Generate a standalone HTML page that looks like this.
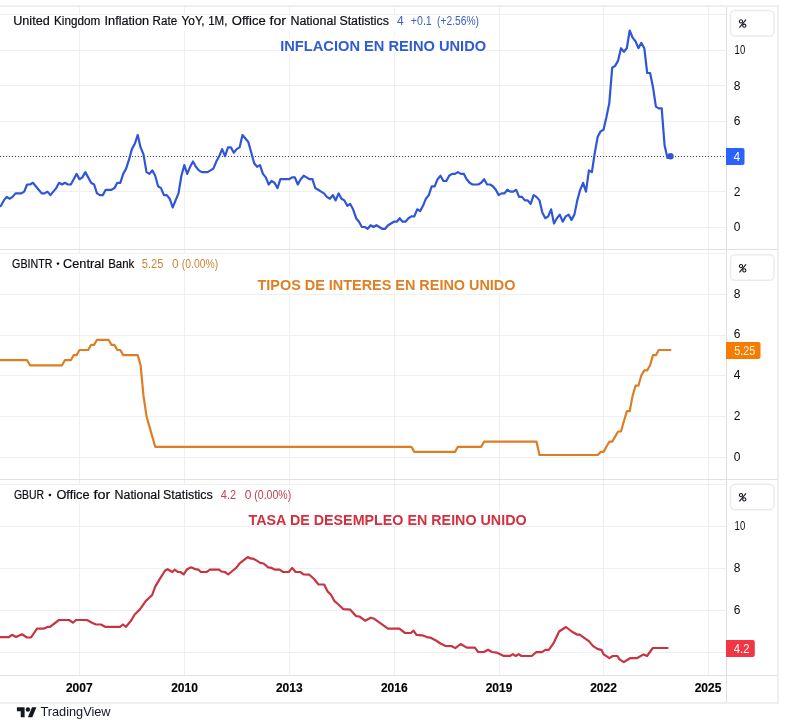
<!DOCTYPE html>
<html><head><meta charset="utf-8"><style>
html,body{margin:0;padding:0;background:#fff;}
svg{display:block;will-change:transform;}
</style></head><body>
<svg width="788" height="725" viewBox="0 0 788 725" font-family="Liberation Sans, sans-serif">
<rect width="788" height="725" fill="#fff"/>
<g stroke="#efefef" stroke-width="1" shape-rendering="crispEdges">
<line x1="79.5" y1="6" x2="79.5" y2="675" /><line x1="184.5" y1="6" x2="184.5" y2="675" /><line x1="289.5" y1="6" x2="289.5" y2="675" /><line x1="394.5" y1="6" x2="394.5" y2="675" /><line x1="499.5" y1="6" x2="499.5" y2="675" /><line x1="603.5" y1="6" x2="603.5" y2="675" /><line x1="708.5" y1="6" x2="708.5" y2="675" /><line x1="0" y1="14.5" x2="726" y2="14.5" /><line x1="0" y1="50.5" x2="726" y2="50.5" /><line x1="0" y1="85.5" x2="726" y2="85.5" /><line x1="0" y1="121.5" x2="726" y2="121.5" /><line x1="0" y1="156.5" x2="726" y2="156.5" /><line x1="0" y1="191.5" x2="726" y2="191.5" /><line x1="0" y1="227.5" x2="726" y2="227.5" /><line x1="0" y1="253.5" x2="726" y2="253.5" /><line x1="0" y1="294.5" x2="726" y2="294.5" /><line x1="0" y1="335.5" x2="726" y2="335.5" /><line x1="0" y1="375.5" x2="726" y2="375.5" /><line x1="0" y1="416.5" x2="726" y2="416.5" /><line x1="0" y1="457.5" x2="726" y2="457.5" /><line x1="0" y1="484.5" x2="726" y2="484.5" /><line x1="0" y1="526.5" x2="726" y2="526.5" /><line x1="0" y1="568.5" x2="726" y2="568.5" /><line x1="0" y1="610.5" x2="726" y2="610.5" /><line x1="0" y1="652.5" x2="726" y2="652.5" />
</g>
<g fill="#efeff1">
<rect x="0" y="5" width="779" height="2"/>
<rect x="777" y="5" width="2" height="699"/>
<rect x="0" y="702" width="779" height="2"/>
</g>
<g fill="#e0e0e0">
<rect x="726" y="7" width="1" height="695"/>
<rect x="0" y="249" width="777" height="1"/>
<rect x="0" y="479" width="777" height="1"/>
<rect x="0" y="675" width="777" height="1"/>
</g>
<!-- % boxes -->
<g fill="none" stroke="#ebebeb" stroke-width="1.5">
<rect x="730.5" y="10.5" width="43.5" height="25.5" rx="4.5"/>
<rect x="730.5" y="254.8" width="43.5" height="25.5" rx="4.5"/>
<rect x="730.5" y="484.3" width="43.5" height="25.5" rx="4.5"/>
</g>
<g fill="none" stroke="#131722" stroke-width="1.1">
<g transform="translate(739,19.3)"><circle cx="2" cy="2.1" r="1.6"/><circle cx="5.3" cy="6.4" r="1.6"/><path d="M0.4,8.3 L7,0.3"/></g>
<g transform="translate(739,264)"><circle cx="2" cy="2.1" r="1.6"/><circle cx="5.3" cy="6.4" r="1.6"/><path d="M0.4,8.3 L7,0.3"/></g>
<g transform="translate(739,493)"><circle cx="2" cy="2.1" r="1.6"/><circle cx="5.3" cy="6.4" r="1.6"/><path d="M0.4,8.3 L7,0.3"/></g>
</g>
<!-- dotted price line -->
<line x1="0" y1="156.5" x2="726" y2="156.5" stroke="#3c4a6e" stroke-width="1" stroke-dasharray="1,2" shape-rendering="crispEdges"/>
<g fill="none" stroke-width="2.2" stroke-linejoin="round" stroke-linecap="round">
<path d="M-7.8,202.2 L-4.9,204.0 L-2.0,207.5 L0.9,205.8 L3.8,200.4 L6.7,196.9 L9.6,198.7 L12.5,196.9 L15.5,193.4 L18.4,193.4 L21.3,193.4 L24.2,191.6 L27.1,184.5 L30.0,184.5 L32.9,182.8 L35.8,186.3 L38.7,189.8 L41.7,193.4 L44.6,193.4 L47.5,191.6 L50.4,195.1 L53.3,191.6 L56.2,188.1 L59.1,182.8 L62.0,184.5 L64.9,182.8 L67.9,184.5 L70.8,184.5 L73.7,179.2 L76.6,173.9 L79.5,179.2 L82.4,177.4 L85.3,172.1 L88.2,177.4 L91.1,182.8 L94.1,184.5 L97.0,193.4 L99.9,195.1 L102.8,195.1 L105.7,189.8 L108.6,189.8 L111.5,189.8 L114.4,188.1 L117.3,182.8 L120.3,182.8 L123.2,173.9 L126.1,168.6 L129.0,159.7 L131.9,149.1 L134.8,143.8 L137.7,135.0 L140.6,147.4 L143.5,154.4 L146.5,172.1 L149.4,173.9 L152.3,170.4 L155.2,175.7 L158.1,186.3 L161.0,188.1 L163.9,195.1 L166.8,195.1 L169.7,198.7 L172.7,207.5 L175.6,200.4 L178.5,193.4 L181.4,175.7 L184.3,165.1 L187.2,173.9 L190.1,166.8 L193.0,161.5 L195.9,166.8 L198.9,170.4 L201.8,172.1 L204.7,172.1 L207.6,172.1 L210.5,170.4 L213.4,168.6 L216.3,161.5 L219.2,156.2 L222.1,149.1 L225.1,156.2 L228.0,147.4 L230.9,147.4 L233.8,152.7 L236.7,149.1 L239.6,147.4 L242.5,135.0 L245.4,138.5 L248.3,142.0 L251.3,152.7 L254.2,163.3 L257.1,166.8 L260.0,165.1 L262.9,173.9 L265.8,177.4 L268.7,184.5 L271.6,181.0 L274.5,182.8 L277.5,188.1 L280.4,179.2 L283.3,179.2 L286.2,179.2 L289.1,179.2 L292.0,177.4 L294.9,177.4 L297.8,184.5 L300.7,179.2 L303.7,175.7 L306.6,177.4 L309.5,179.2 L312.4,179.2 L315.3,188.1 L318.2,189.8 L321.1,191.6 L324.0,193.4 L326.9,196.9 L329.9,198.7 L332.8,195.1 L335.7,200.4 L338.6,193.4 L341.5,198.7 L344.4,200.4 L347.3,205.8 L350.2,204.0 L353.1,209.3 L356.1,218.2 L359.0,221.7 L361.9,227.0 L364.8,227.0 L367.7,228.8 L370.6,225.2 L373.5,227.0 L376.4,225.2 L379.3,227.0 L382.3,228.8 L385.2,228.8 L388.1,225.2 L391.0,223.5 L393.9,221.7 L396.8,221.7 L399.7,218.2 L402.6,221.7 L405.5,221.7 L408.5,218.2 L411.4,216.4 L414.3,216.4 L417.2,209.3 L420.1,211.1 L423.0,205.8 L425.9,198.7 L428.8,195.1 L431.7,186.3 L434.7,186.3 L437.6,179.2 L440.5,175.7 L443.4,181.0 L446.3,181.0 L449.2,175.7 L452.1,173.9 L455.0,173.9 L457.9,172.1 L460.9,173.9 L463.8,173.9 L466.7,179.2 L469.6,182.8 L472.5,184.5 L475.4,184.5 L478.3,184.5 L481.2,182.8 L484.1,179.2 L487.1,184.5 L490.0,184.5 L492.9,186.3 L495.8,189.8 L498.7,195.1 L501.6,193.4 L504.5,193.4 L507.4,189.8 L510.3,191.6 L513.3,191.6 L516.2,189.8 L519.1,196.9 L522.0,196.9 L524.9,200.4 L527.8,200.4 L530.7,204.0 L533.6,195.1 L536.5,196.9 L539.5,200.4 L542.4,212.8 L545.3,218.2 L548.2,216.4 L551.1,209.3 L554.0,223.5 L556.9,218.2 L559.8,214.6 L562.7,221.7 L565.7,216.4 L568.6,214.6 L571.5,219.9 L574.4,214.6 L577.3,200.4 L580.2,189.8 L583.1,182.8 L586.0,191.6 L588.9,170.4 L591.9,172.1 L594.8,152.7 L597.7,136.7 L600.6,131.4 L603.5,129.7 L606.4,117.3 L609.3,103.1 L612.2,67.7 L615.1,65.9 L618.1,60.6 L621.0,48.2 L623.9,51.8 L626.8,48.2 L629.7,30.5 L632.6,37.6 L635.5,41.2 L638.4,48.2 L641.3,42.9 L644.3,48.2 L647.2,73.0 L650.1,73.0 L653.0,87.2 L655.9,106.6 L658.8,108.4 L661.7,108.4 L664.6,145.6 L667.5,158.0 L670.5,156.2" stroke="#2f56d6"/>
<path d="M-7.8,360.2 L-4.9,360.2 L-2.0,360.2 L0.9,360.2 L3.8,360.2 L6.7,360.2 L9.6,360.2 L12.5,360.2 L15.5,360.2 L18.4,360.2 L21.3,360.2 L24.2,360.2 L27.1,360.2 L30.0,365.3 L32.9,365.3 L35.8,365.3 L38.7,365.3 L41.7,365.3 L44.6,365.3 L47.5,365.3 L50.4,365.3 L53.3,365.3 L56.2,365.3 L59.1,365.3 L62.0,365.3 L64.9,360.2 L67.9,360.2 L70.8,360.2 L73.7,355.1 L76.6,355.1 L79.5,350.0 L82.4,350.0 L85.3,350.0 L88.2,350.0 L91.1,344.9 L94.1,344.9 L97.0,339.8 L99.9,339.8 L102.8,339.8 L105.7,339.8 L108.6,339.8 L111.5,344.9 L114.4,344.9 L117.3,350.0 L120.3,350.0 L123.2,355.1 L126.1,355.1 L129.0,355.1 L131.9,355.1 L134.8,355.1 L137.7,355.1 L140.6,365.3 L143.5,395.9 L146.5,416.2 L149.4,426.4 L152.3,436.6 L155.2,446.8 L158.1,446.8 L161.0,446.8 L163.9,446.8 L166.8,446.8 L169.7,446.8 L172.7,446.8 L175.6,446.8 L178.5,446.8 L181.4,446.8 L184.3,446.8 L187.2,446.8 L190.1,446.8 L193.0,446.8 L195.9,446.8 L198.9,446.8 L201.8,446.8 L204.7,446.8 L207.6,446.8 L210.5,446.8 L213.4,446.8 L216.3,446.8 L219.2,446.8 L222.1,446.8 L225.1,446.8 L228.0,446.8 L230.9,446.8 L233.8,446.8 L236.7,446.8 L239.6,446.8 L242.5,446.8 L245.4,446.8 L248.3,446.8 L251.3,446.8 L254.2,446.8 L257.1,446.8 L260.0,446.8 L262.9,446.8 L265.8,446.8 L268.7,446.8 L271.6,446.8 L274.5,446.8 L277.5,446.8 L280.4,446.8 L283.3,446.8 L286.2,446.8 L289.1,446.8 L292.0,446.8 L294.9,446.8 L297.8,446.8 L300.7,446.8 L303.7,446.8 L306.6,446.8 L309.5,446.8 L312.4,446.8 L315.3,446.8 L318.2,446.8 L321.1,446.8 L324.0,446.8 L326.9,446.8 L329.9,446.8 L332.8,446.8 L335.7,446.8 L338.6,446.8 L341.5,446.8 L344.4,446.8 L347.3,446.8 L350.2,446.8 L353.1,446.8 L356.1,446.8 L359.0,446.8 L361.9,446.8 L364.8,446.8 L367.7,446.8 L370.6,446.8 L373.5,446.8 L376.4,446.8 L379.3,446.8 L382.3,446.8 L385.2,446.8 L388.1,446.8 L391.0,446.8 L393.9,446.8 L396.8,446.8 L399.7,446.8 L402.6,446.8 L405.5,446.8 L408.5,446.8 L411.4,446.8 L414.3,451.9 L417.2,451.9 L420.1,451.9 L423.0,451.9 L425.9,451.9 L428.8,451.9 L431.7,451.9 L434.7,451.9 L437.6,451.9 L440.5,451.9 L443.4,451.9 L446.3,451.9 L449.2,451.9 L452.1,451.9 L455.0,451.9 L457.9,446.8 L460.9,446.8 L463.8,446.8 L466.7,446.8 L469.6,446.8 L472.5,446.8 L475.4,446.8 L478.3,446.8 L481.2,446.8 L484.1,441.7 L487.1,441.7 L490.0,441.7 L492.9,441.7 L495.8,441.7 L498.7,441.7 L501.6,441.7 L504.5,441.7 L507.4,441.7 L510.3,441.7 L513.3,441.7 L516.2,441.7 L519.1,441.7 L522.0,441.7 L524.9,441.7 L527.8,441.7 L530.7,441.7 L533.6,441.7 L536.5,441.7 L539.5,455.0 L542.4,455.0 L545.3,455.0 L548.2,455.0 L551.1,455.0 L554.0,455.0 L556.9,455.0 L559.8,455.0 L562.7,455.0 L565.7,455.0 L568.6,455.0 L571.5,455.0 L574.4,455.0 L577.3,455.0 L580.2,455.0 L583.1,455.0 L586.0,455.0 L588.9,455.0 L591.9,455.0 L594.8,455.0 L597.7,455.0 L600.6,451.9 L603.5,451.9 L606.4,446.8 L609.3,441.7 L612.2,441.7 L615.1,436.6 L618.1,431.5 L621.0,431.5 L623.9,421.3 L626.8,411.2 L629.7,411.2 L632.6,395.9 L635.5,385.7 L638.4,385.7 L641.3,375.5 L644.3,370.4 L647.2,370.4 L650.1,365.3 L653.0,355.1 L655.9,355.1 L658.8,350.0 L661.7,350.0 L664.6,350.0 L667.5,350.0 L670.5,350.0" stroke="#de7e24"/>
<path d="M0.0,637.1 L9.0,637.1 L12.0,634.8 L16.0,637.0 L22.0,634.3 L27.0,637.5 L31.0,637.5 L37.0,628.6 L44.0,628.6 L48.0,626.8 L50.0,626.8 L59.0,620.0 L69.0,620.0 L73.0,622.7 L76.0,620.0 L87.0,620.0 L92.0,622.7 L96.0,624.5 L101.0,624.5 L105.0,626.8 L120.0,626.8 L123.0,624.5 L126.0,626.8 L131.0,620.8 L134.7,614.5 L139.7,609.6 L145.9,600.9 L152.0,595.3 L155.2,586.6 L158.9,580.4 L165.1,570.5 L167.6,569.2 L172.3,572.0 L174.6,569.7 L178.0,572.0 L180.3,572.0 L183.7,574.3 L187.1,569.2 L190.6,567.4 L192.8,567.9 L195.1,569.2 L198.6,569.7 L200.8,572.0 L206.5,572.0 L210.0,569.7 L219.1,569.7 L221.4,571.5 L224.8,572.0 L228.2,574.3 L231.7,571.5 L236.2,567.9 L239.7,563.3 L243.1,560.6 L247.7,557.1 L251.1,558.7 L253.4,558.7 L256.8,560.6 L260.2,562.8 L263.6,563.5 L268.2,567.4 L271.6,567.9 L275.1,569.7 L279.6,569.7 L283.1,572.0 L288.8,572.0 L292.2,567.9 L295.6,572.0 L300.2,572.0 L303.6,574.3 L309.3,574.7 L313.9,578.8 L318.5,584.5 L324.2,584.5 L327.6,591.4 L331.0,594.8 L334.5,601.2 L337.9,604.0 L343.4,609.2 L350.3,609.7 L356.0,616.1 L359.4,616.5 L365.1,620.7 L370.8,617.7 L374.3,618.8 L388.0,628.7 L399.4,628.7 L405.1,633.0 L410.8,633.0 L413.5,630.7 L416.5,634.8 L422.2,635.3 L426.8,637.1 L430.2,637.6 L435.9,640.5 L440.5,643.5 L445.1,645.8 L451.9,646.2 L455.3,648.1 L460.6,644.0 L466.8,647.6 L474.8,647.6 L478.2,652.0 L483.9,652.0 L488.0,649.7 L491.9,652.0 L496.5,652.6 L503.3,655.8 L510.2,655.8 L512.7,654.1 L515.7,656.0 L518.7,654.1 L521.4,656.0 L531.7,656.0 L536.3,652.1 L542.0,652.1 L545.4,649.8 L548.8,649.8 L553.4,643.4 L559.1,631.5 L566.0,627.0 L571.7,631.5 L577.4,634.7 L579.7,634.7 L588.8,641.1 L593.4,646.4 L597.9,649.1 L601.4,649.8 L603.7,654.4 L609.4,658.2 L612.8,656.0 L617.4,656.0 L619.6,659.4 L623.8,662.1 L629.9,658.2 L636.8,658.2 L643.6,654.4 L647.0,656.0 L652.8,648.0 L667.6,648.0" stroke="#c73541"/>
</g>
<circle cx="670.5" cy="156.2" r="3.2" fill="#2f56d6"/>
<!-- axis labels -->
<g font-size="12" fill="#0a0a0a">
<text x="734.6" y="54.1" textLength="10.6" lengthAdjust="spacingAndGlyphs">10</text>
<text x="733.7" y="89.5">8</text>
<text x="733.7" y="124.9">6</text>
<text x="733.7" y="195.7">2</text>
<text x="733.7" y="231.1">0</text>
<text x="733.7" y="297.6">8</text>
<text x="733.7" y="338.4">6</text>
<text x="733.7" y="379.1">4</text>
<text x="733.7" y="419.9">2</text>
<text x="733.7" y="460.6">0</text>
<text x="734.6" y="530.4" textLength="10.6" lengthAdjust="spacingAndGlyphs">10</text>
<text x="733.7" y="572.4">8</text>
<text x="733.7" y="614.4">6</text>
</g>
<!-- price labels -->
<path d="M726,148 H742.5 a2,2 0 0 1 2,2 V163 a2,2 0 0 1 -2,2 H726 Z" fill="#2962ff"/>
<text x="733.6" y="160.9" font-size="12" fill="#fff">4</text>
<path d="M726,342 H758.5 a2,2 0 0 1 2,2 V357 a2,2 0 0 1 -2,2 H726 Z" fill="#f57c00"/>
<text x="734.3" y="355.1" font-size="12" fill="#fff8e0" textLength="21" lengthAdjust="spacingAndGlyphs">5.25</text>
<path d="M726,640 H752.8 a2,2 0 0 1 2,2 V655 a2,2 0 0 1 -2,2 H726 Z" fill="#f23645"/>
<text x="733.8" y="653.1" font-size="12" fill="#fff" textLength="15.6" lengthAdjust="spacingAndGlyphs">4.2</text>
<!-- year labels -->
<g font-size="12" font-weight="bold" fill="#000" stroke="#000" stroke-width="0.15">
<text x="79.3" y="692.3" text-anchor="middle">2007</text>
<text x="184.5" y="692.3" text-anchor="middle">2010</text>
<text x="289.3" y="692.3" text-anchor="middle">2013</text>
<text x="394.3" y="692.3" text-anchor="middle">2016</text>
<text x="499" y="692.3" text-anchor="middle">2019</text>
<text x="603.5" y="692.3" text-anchor="middle">2022</text>
<text x="708" y="692.3" text-anchor="middle">2025</text>
</g>
<!-- legends -->
<g fill="#fff">
<rect x="10" y="15" width="472" height="15.5"/>
<rect x="10" y="254" width="212" height="18"/>
<rect x="10" y="485" width="285" height="18"/>
</g>
<g font-size="12" fill="#0c0e14" stroke="#0c0e14" stroke-width="0.2">
<text x="13.2" y="24.6" textLength="36.5" lengthAdjust="spacingAndGlyphs">United</text>
<text x="54.0" y="24.6" textLength="46.2" lengthAdjust="spacingAndGlyphs">Kingdom</text>
<text x="104.6" y="24.6" textLength="44.4" lengthAdjust="spacingAndGlyphs">Inflation</text>
<text x="152.6" y="24.6" textLength="24.6" lengthAdjust="spacingAndGlyphs">Rate</text>
<text x="181.5" y="24.6" textLength="23.1" lengthAdjust="spacingAndGlyphs">YoY,</text>
<text x="208.2" y="24.6" textLength="19.2" lengthAdjust="spacingAndGlyphs">1M,</text>
<text x="231.8" y="24.6" textLength="33.9" lengthAdjust="spacingAndGlyphs">Office</text>
<text x="269.6" y="24.6" textLength="16.4" lengthAdjust="spacingAndGlyphs">for</text>
<text x="290.4" y="24.6" textLength="45.8" lengthAdjust="spacingAndGlyphs">National</text>
<text x="339.4" y="24.6" textLength="49.5" lengthAdjust="spacingAndGlyphs">Statistics</text>
<text x="12.1" y="267.6" textLength="40.3" lengthAdjust="spacingAndGlyphs">GBINTR</text>
<text x="63.1" y="267.6" textLength="41.0" lengthAdjust="spacingAndGlyphs">Central</text>
<text x="108.2" y="267.6" textLength="26.1" lengthAdjust="spacingAndGlyphs">Bank</text>
<text x="13.9" y="498.6" textLength="30.0" lengthAdjust="spacingAndGlyphs">GBUR</text>
<text x="56.4" y="498.6" textLength="33.1" lengthAdjust="spacingAndGlyphs">Office</text>
<text x="93.5" y="498.6" textLength="16.8" lengthAdjust="spacingAndGlyphs">for</text>
<text x="114.6" y="498.6" textLength="45.4" lengthAdjust="spacingAndGlyphs">National</text>
<text x="163.0" y="498.6" textLength="49.8" lengthAdjust="spacingAndGlyphs">Statistics</text>
<circle cx="58" cy="263.6" r="1.2"/><circle cx="49.9" cy="495" r="1.2"/>
</g>
<g font-size="12" fill="#3d5fc4">
<text x="397" y="24.6">4</text>
<text x="410.8" y="24.6" textLength="21" lengthAdjust="spacingAndGlyphs">+0.1</text>
<text x="437" y="24.6" textLength="42" lengthAdjust="spacingAndGlyphs">(+2.56%)</text>
</g>
<g font-size="12" fill="#cf8436">
<text x="141.8" y="267.6" textLength="21.6" lengthAdjust="spacingAndGlyphs">5.25</text>
<text x="172" y="267.6">0</text>
<text x="181.8" y="267.6" textLength="36.5" lengthAdjust="spacingAndGlyphs">(0.00%)</text>
</g>
<g font-size="12" fill="#c0404e">
<text x="220.8" y="498.6" textLength="15.2" lengthAdjust="spacingAndGlyphs">4.2</text>
<text x="244.8" y="498.6">0</text>
<text x="254.3" y="498.6" textLength="37" lengthAdjust="spacingAndGlyphs">(0.00%)</text>
</g>
<!-- titles -->
<g fill="#fff">
<rect x="279.5" y="37.5" width="207" height="16"/>
<rect x="256.5" y="276" width="260" height="16"/>
<rect x="248" y="511" width="280" height="15"/>
</g>
<g font-size="15.5" font-weight="bold">
<text x="280.2" y="51" fill="#2f5bd6" textLength="206" lengthAdjust="spacingAndGlyphs">INFLACION EN REINO UNIDO</text>
<text x="257.5" y="289.9" fill="#e07f22" textLength="258" lengthAdjust="spacingAndGlyphs">TIPOS DE INTERES EN REINO UNIDO</text>
<text x="248.6" y="525" fill="#d3303f" textLength="278" lengthAdjust="spacingAndGlyphs">TASA DE DESEMPLEO EN REINO UNIDO</text>
</g>
<!-- TradingView logo -->
<g transform="translate(16.9,705.1) scale(0.55)" fill="#131722">
<path d="M14 22H7V11H0V4h14v18zM28 22h-8l7.5-18h8L28 22z"/><circle cx="20" cy="8" r="4"/>
</g>
<text x="40.4" y="716.2" font-size="13" fill="#131722" textLength="70.2" lengthAdjust="spacingAndGlyphs">TradingView</text>
</svg>
</body></html>
